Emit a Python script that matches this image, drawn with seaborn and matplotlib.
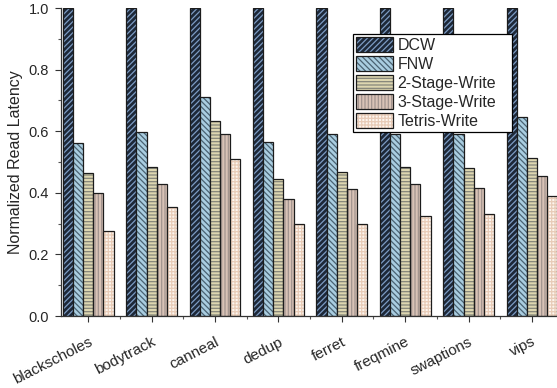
import matplotlib
matplotlib.use("Agg")
import matplotlib.pyplot as plt
import matplotlib.colors as mcolors
from matplotlib.ticker import MultipleLocator, FixedLocator
from matplotlib.transforms import ScaledTranslation
import numpy as np
import pandas as pd
import seaborn as sns

# Benchmarks and normalized read latency per write scheme
benchmarks = ["blackscholes", "bodytrack", "canneal", "dedup",
              "ferret", "freqmine", "swaptions", "vips"]
schemes = ["DCW", "FNW", "2-Stage-Write", "3-Stage-Write", "Tetris-Write"]

dcw = [1.0, 1.0, 1.0, 1.0, 1.0, 1.0, 1.0, 1.0]
fnw = [0.561, 0.596, 0.710, 0.564, 0.590, 0.591, 0.591, 0.645]
two_stage = [0.463, 0.483, 0.632, 0.444, 0.466, 0.483, 0.479, 0.512]
three_stage = [0.398, 0.428, 0.592, 0.381, 0.411, 0.428, 0.417, 0.456]
tetris = [0.277, 0.353, 0.510, 0.298, 0.300, 0.325, 0.332, 0.391]

series = [dcw, fnw, two_stage, three_stage, tetris]

# Fill, hatch pattern and hatch colour for each scheme
styles = {
    "DCW":           ("#1d2838", "//////", "#7d9cc4"),
    "FNW":           ("#a9cde0", "\\\\\\\\\\\\", "#4a6272"),
    "2-Stage-Write": ("#ddd6b0", "-----", "#85857a"),
    "3-Stage-Write": ("#d8c2b6", "|||||", "#a2958f"),
    "Tetris-Write":  ("#fdf5ee", "+++++", "#e8ccb8"),
}

df = pd.DataFrame({
    "benchmark": np.tile(benchmarks, len(schemes)),
    "scheme": np.repeat(schemes, len(benchmarks)),
    "latency": np.concatenate(series),
})

sns.set_theme(style="white")
plt.rcParams["font.family"] = ["Liberation Sans", "DejaVu Sans"]
plt.rcParams["hatch.linewidth"] = 0.9

fig = plt.figure(figsize=(5.57, 3.88), dpi=100)
ax = fig.add_axes([61 / 557, 1 - 316 / 388, 1 - 61 / 557, (316 - 8) / 388])

sns.barplot(data=df, x="benchmark", y="latency", hue="scheme",
            order=benchmarks, hue_order=schemes, width=0.8,
            legend=False, ax=ax, saturation=1)

edge = "#1c1c1c"
for cont, name in zip(ax.containers, schemes):
    face, hatch, hcol = styles[name]
    for p in cont.patches:
        p.set_facecolor(face)
        p.set_edgecolor(edge)
        p.set_linewidth(0.9)
        p.set_hatch(hatch)
        p._hatch_color = mcolors.to_rgba(hcol)

ax.set_xlim(-0.43, 7.395)
ax.set_ylim(0, 1.0)
ax.set_xlabel("")
ax.set_ylabel("Normalized Read Latency", fontsize=11.5, labelpad=4)

ax.yaxis.set_major_locator(MultipleLocator(0.2))
ax.yaxis.set_minor_locator(MultipleLocator(0.1))
ax.xaxis.set_minor_locator(FixedLocator(np.arange(0.5, 7.0, 1.0)))
ax.set_yticks(np.arange(0, 1.01, 0.2))
ax.set_yticklabels([f"{v:.1f}" for v in np.arange(0, 1.01, 0.2)], fontsize=10.5)
ax.set_xticks(range(len(benchmarks)))
ax.set_xticklabels(benchmarks, fontsize=11, rotation=27, ha="right",
                   rotation_mode="anchor")
shift = ScaledTranslation(6 / 100, 0, fig.dpi_scale_trans)
for lab in ax.get_xticklabels():
    lab.set_transform(lab.get_transform() + shift)

ax.tick_params(axis="both", which="major", direction="out", length=4.5,
               width=0.8, color="#333333", bottom=True, left=True)
ax.tick_params(axis="y", which="major", pad=4)
ax.tick_params(axis="x", which="major", pad=9)
ax.tick_params(axis="both", which="minor", direction="out", length=2.5,
               width=0.8, color="#555555", bottom=True, left=True)

for s in ["top", "right"]:
    ax.spines[s].set_visible(False)
for s in ["left", "bottom"]:
    ax.spines[s].set_color("#333333")
    ax.spines[s].set_linewidth(0.9)

x0, y1 = 353 / 557, 1 - 34 / 388
w, h = (512 - 353) / 557, (130 - 34) / 388
leg = ax.legend(handles=list(ax.containers), labels=schemes,
                loc="upper left", bbox_to_anchor=(x0, y1 - h, w, h),
                bbox_transform=fig.transFigure, mode="expand", fontsize=11.5,
                frameon=True, fancybox=False, framealpha=1,
                edgecolor="black", borderpad=0.2, labelspacing=0.2,
                handlelength=2.3, handleheight=1.05, handletextpad=0.3,
                borderaxespad=0)
leg.get_frame().set_linewidth(0.9)
leg.set_zorder(10)

fig.savefig("out.png", dpi=100)
